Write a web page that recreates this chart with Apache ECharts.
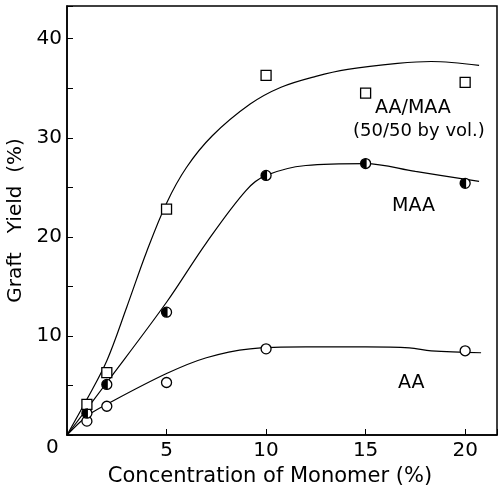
<!DOCTYPE html>
<html>
<head>
<meta charset="utf-8">
<script src="https://cdn.jsdelivr.net/npm/echarts@6/dist/echarts.min.js"></script>
<style>
html, body { margin: 0; padding: 0; background: #fff; }
#main { width: 498px; height: 492px; }
</style>
</head>
<body>
<div id="main"></div>
<script>
// measured points (x = monomer %, y = graft yield %)
var aaPts = [[1, 1.4], [2, 2.9], [5, 5.3], [10, 8.7], [20, 8.5]];
var maaPts = [[1, 2.2], [2, 5.1], [5, 12.4], [10, 26.2], [15, 27.4], [20, 25.4]];
var mixPts = [[1, 3.1], [2, 6.3], [5, 22.8], [10, 36.3], [15, 34.5], [20, 35.6]];

// hand-drawn fitted curves
var aaCurve = [[0, 0], [1, 1.9], [2, 3.1], [5, 6.2], [7, 7.8], [9.2, 8.7], [12, 8.9], [15, 8.9], [17.2, 8.8], [18.3, 8.5], [20.8, 8.3]];
var maaCurve = [[0, 0], [2, 5.3], [5, 13.4], [7, 19.4], [9, 24.7], [10, 26.2], [12, 27.2], [15, 27.4], [17.5, 26.6], [20.7, 25.6]];
var mixCurve = [[0, 0], [1, 3.6], [2, 7.5], [3, 12.9], [4, 18.5], [5, 23.4], [6, 27], [7.3, 30.2], [9.2, 33.4], [10.75, 35.1], [12.5, 36.2], [14.1, 36.9], [16.6, 37.5], [18.3, 37.7], [20.7, 37.3]];

var xTicks = [5, 10, 15, 20];
var yTicks = [10, 20, 30, 40];

var font = 'DejaVu Sans';
var myChart = echarts.init(document.getElementById('main'));

function curve(data) {
	return {
		type: 'line', data: data, smooth: 0.35, showSymbol: false, silent: true,
		lineStyle: {color: '#000', width: 1.2}, z: 2
	};
}
function pts(data, symbol, fill) {
	return {
		type: 'scatter', data: data, symbol: symbol, symbolSize: 10, z: 3,
		itemStyle: {color: fill, borderColor: '#000', borderWidth: 1.3, opacity: 1}
	};
}

myChart.setOption({
	backgroundColor: '#fff',
	animation: false,
	grid: {left: 67, right: 1, top: 6, bottom: 57, show: true, borderColor: '#000', borderWidth: 1.5, outerBoundsMode: 'none'},
	xAxis: {
		type: 'value', min: 0, max: 21.6, interval: 5,
		name: 'Concentration of Monomer (%)', nameLocation: 'middle', nameGap: 22,
		nameTextStyle: {fontFamily: font, fontSize: 21, color: '#000', padding: [0, 24, 0, 0]},
		axisLine: {lineStyle: {color: '#000', width: 1.5}},
		axisTick: {inside: true, length: 6, lineStyle: {color: '#000'}},
		axisLabel: {fontFamily: font, fontSize: 20, color: '#000', margin: 6,
			formatter: function(v) { return xTicks.indexOf(v) >= 0 ? String(v) : ''; }},
		splitLine: {show: false}
	},
	yAxis: {
		type: 'value', min: 0, max: 43.3, interval: 5,
		name: 'Graft   Yield  (%)', nameLocation: 'middle', nameGap: 38,
		nameTextStyle: {fontFamily: font, fontSize: 20, color: '#000'},
		axisLine: {lineStyle: {color: '#000', width: 1.5}},
		axisTick: {inside: true, length: 6, lineStyle: {color: '#000'}},
		axisLabel: {fontFamily: font, fontSize: 20, color: '#000', margin: 5,
			formatter: function(v) { return yTicks.indexOf(v) >= 0 ? String(v) : ''; }},
		splitLine: {show: false}
	},
	graphic: [
		{type: 'text', left: 46, top: 438, style: {text: '0', font: '20px "DejaVu Sans"', fill: '#000'}},
		{type: 'text', left: 375, top: 99, style: {text: 'AA/MAA', font: '19px "DejaVu Sans"', fill: '#000'}},
		{type: 'text', left: 353, top: 122, style: {text: '(50/50 by vol.)', font: '18px "DejaVu Sans"', fill: '#000'}},
		{type: 'text', left: 392, top: 197, style: {text: 'MAA', font: '19px "DejaVu Sans"', fill: '#000'}},
		{type: 'text', left: 398, top: 374, style: {text: 'AA', font: '19px "DejaVu Sans"', fill: '#000'}}
	],
	series: [
		curve(aaCurve), curve(maaCurve), curve(mixCurve),
		pts(aaPts, 'circle', '#fff'),
		pts(maaPts, 'circle', '#fff'),
		{
			type: 'scatter', data: maaPts, z: 4,
			symbol: 'path://M10,0 A10,10 0 0,0 10,20 Z', symbolSize: [6, 10], symbolOffset: [-2, 0],
			itemStyle: {color: '#000', opacity: 1}
		},
		pts(mixPts, 'rect', '#fff')
	]
});
</script>
</body>
</html>
